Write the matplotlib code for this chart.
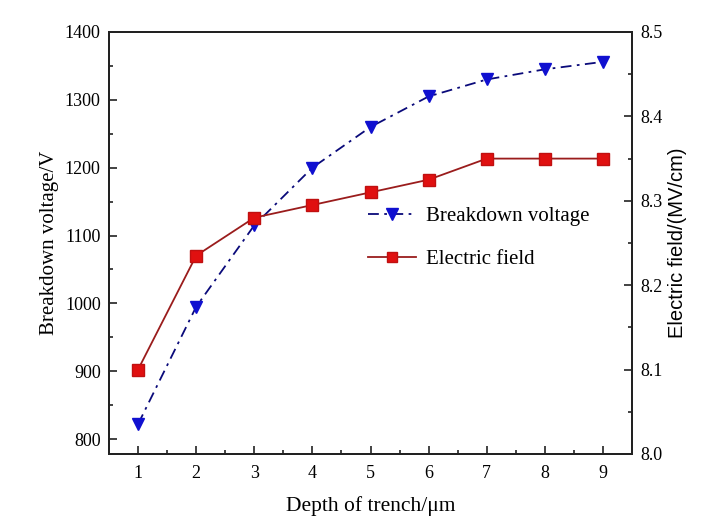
import numpy as np
import matplotlib.pyplot as plt
from matplotlib.ticker import MultipleLocator

depth = [1, 2, 3, 4, 5, 6, 7, 8, 9]
breakdown_voltage = [822, 995, 1115, 1200, 1260, 1305, 1330, 1345, 1356]
electric_field = [8.10, 8.235, 8.28, 8.295, 8.31, 8.325, 8.35, 8.35, 8.35]

plt.rcParams['font.family'] = ['Liberation Serif', 'DejaVu Serif']

fig = plt.figure(figsize=(7.26, 5.32), dpi=100)
ax = fig.add_axes([109 / 726, 1 - 454 / 532, (632 - 109) / 726, (454 - 32) / 532])
ax2 = ax.twinx()

# breakdown voltage on the left axis
l1, = ax.plot(depth, breakdown_voltage, color='#0a0a7a', linestyle=(0, (6, 3, 1.5, 3)), lw=1.3,
              marker='v', markersize=9, markerfacecolor='#1010d0', markeredgecolor='#1010d0',
              label='Breakdown voltage')
# electric field on the right axis
l2, = ax2.plot(depth, electric_field, color='#9a1c1c', lw=1.3,
               marker='s', markersize=8, markerfacecolor='#e01010', markeredgecolor='#c01010',
               label='Electric field')

ax.set_xlim(0.5, 9.5)
ax.set_ylim(778, 1400)
ax2.set_ylim(8.0, 8.5)

ax.xaxis.set_major_locator(MultipleLocator(1))
ax.xaxis.set_minor_locator(MultipleLocator(0.5))
ax.yaxis.set_major_locator(MultipleLocator(100))
ax.yaxis.set_minor_locator(MultipleLocator(50))
ax2.yaxis.set_major_locator(MultipleLocator(0.1))
ax2.yaxis.set_minor_locator(MultipleLocator(0.05))
ax2.yaxis.set_major_formatter(plt.FormatStrFormatter('%.1f'))

for a in (ax, ax2):
    a.tick_params(which='major', direction='in', length=6, width=1.2, labelsize=13, color='#222222')
    a.tick_params(which='minor', direction='in', length=3, width=1.2, color='#222222')
    for s in a.spines.values():
        s.set_linewidth(1.4)
        s.set_color('#222222')
ax.tick_params(axis='x', which='both', top=False, pad=8)
ax.tick_params(axis='y', pad=6)
ax2.tick_params(axis='y', pad=6)

ax.set_xlabel('Depth of trench/\u03bcm', fontsize=15.5, labelpad=10)
ax.set_ylabel('Breakdown voltage/V', fontsize=15, labelpad=4)
ax2.set_ylabel('Electric field/(MV/cm)', fontsize=14.5, family=['Liberation Sans', 'DejaVu Sans'], labelpad=4)

ax.legend([l1, l2], ['Breakdown voltage', 'Electric field'], loc='upper left',
          bbox_to_anchor=(0.46, 0.63), frameon=False, fontsize=15, handlelength=2.3,
          handletextpad=0.45, labelspacing=1.1, markerscale=0.9)

fig.savefig('out.png', dpi=100)
